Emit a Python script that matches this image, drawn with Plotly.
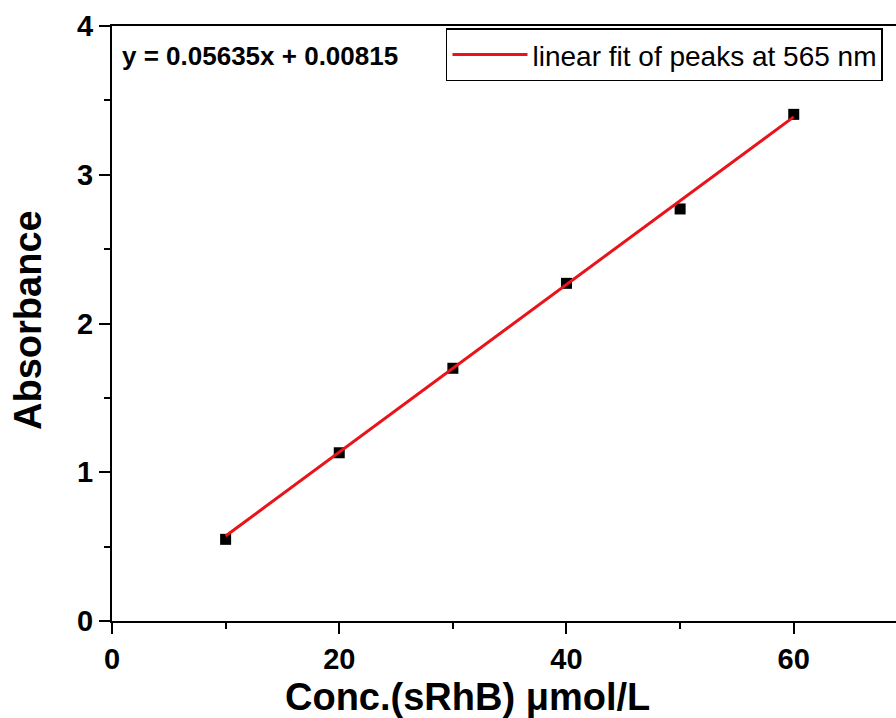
import plotly.graph_objects as go

conc = [10, 20, 30, 40, 50, 60]
absorbance = [0.549, 1.131, 1.699, 2.270, 2.770, 3.406]
fit_x = [10, 60]
fit_y = [0.5717, 3.3892]
equation = "y = 0.05635x + 0.00815"
fit_label = "linear fit of peaks at 565 nm"
x_ticks = [0, 20, 40, 60]
y_ticks = [0, 1, 2, 3, 4]

FONT = "Liberation Sans, Arial, sans-serif"

fig = go.Figure()
fig.add_trace(go.Scatter(
    x=conc, y=absorbance, mode="markers",
    marker=dict(symbol="square", size=11, color="black"),
    showlegend=False,
))
fig.add_trace(go.Scatter(
    x=fit_x, y=fit_y, mode="lines",
    line=dict(color="#e8141a", width=3),
    name=fit_label,
))

fig.update_layout(
    width=896, height=718,
    margin=dict(l=112, r=0, t=26, b=97),
    paper_bgcolor="white", plot_bgcolor="white",
    font=dict(family=FONT, color="black"),
    legend=dict(
        x=0.426, y=0.996, xanchor="left", yanchor="top",
        bordercolor="black", borderwidth=1.5,
        font=dict(family=FONT, size=28, color="black"),
        bgcolor="white", itemwidth=75,
    ),
    xaxis=dict(
        range=[0, 69], tickvals=x_ticks,
        ticks="outside", ticklen=11, tickwidth=2, tickcolor="black",
        minor=dict(dtick=10, ticks="outside", ticklen=6, tickwidth=2, tickcolor="black"),
        showline=True, linewidth=2, linecolor="black", mirror=True,
        showgrid=False, zeroline=False,
        tickfont=dict(family=FONT, size=29, color="black", weight="bold"),
        automargin=False,
    ),
    yaxis=dict(
        range=[0, 4], tickvals=y_ticks,
        ticks="outside", ticklen=11, tickwidth=2, tickcolor="black",
        minor=dict(dtick=0.5, ticks="outside", ticklen=6, tickwidth=2, tickcolor="black"),
        showline=True, linewidth=2, linecolor="black",
        showgrid=False, zeroline=False,
        tickfont=dict(family=FONT, size=29, color="black", weight="bold"),
        automargin=False,
    ),
    annotations=[
        dict(text="<b>" + equation + "</b>", xref="paper", yref="paper",
             x=0.0102, y=0.9496, xanchor="left", yanchor="middle", showarrow=False,
             font=dict(family=FONT, size=26, color="black")),
        dict(text="<b>Conc.(sRhB) μmol/L</b>", xref="paper", yref="paper",
             x=0.454, y=-0.128, xanchor="center", yanchor="middle", showarrow=False,
             font=dict(family=FONT, size=38, color="black")),
        dict(text="<b>Absorbance</b>", xref="paper", yref="paper",
             x=0, xshift=-84, y=0.506, xanchor="center", yanchor="middle",
             textangle=-90, showarrow=False,
             font=dict(family=FONT, size=38, color="black")),
    ],
)

fig.write_html("out.html")
